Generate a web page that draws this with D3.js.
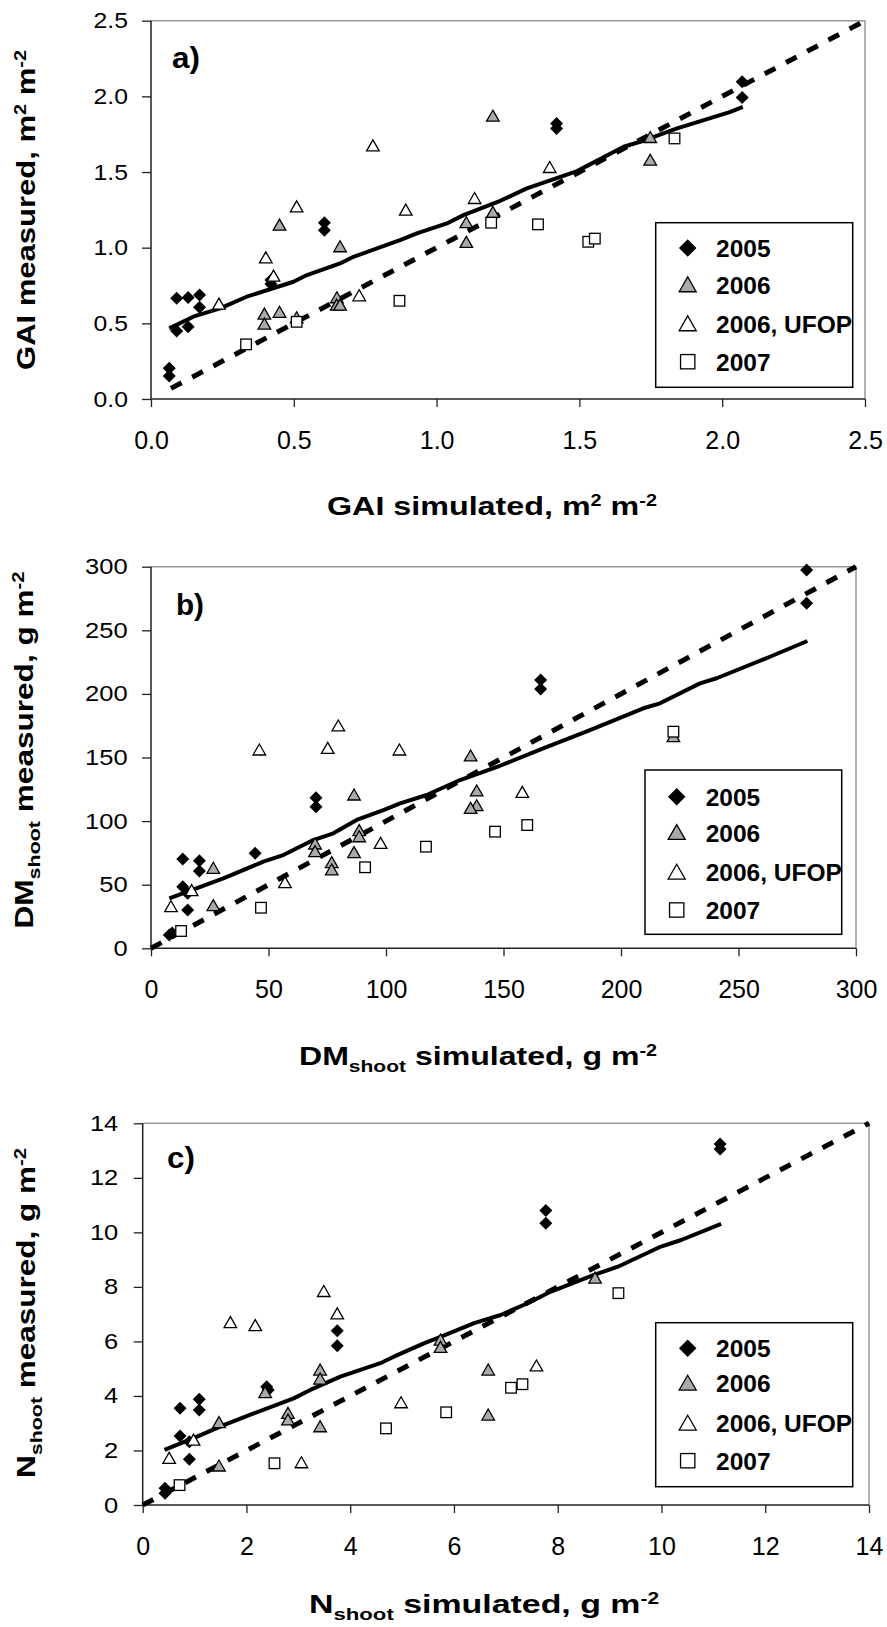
<!DOCTYPE html>
<html>
<head>
<meta charset="utf-8">
<script src="https://cdn.jsdelivr.net/npm/d3@7"></script>
<style>
  body { margin: 0; background: #fff; }
  text { font-family: Arial, "Liberation Sans", sans-serif; }
</style>
</head>
<body>
<svg id="chart" width="887" height="1627"></svg>
<script>
// ---- panel a) GAI ----
const gai2005 = [[0.09,0.665],[0.13,0.67],[0.17,0.687],[0.17,0.606],[0.09,0.449],[0.13,0.478],[0.064,0.203],[0.064,0.152],
  [0.42,0.786],[0.42,0.76],[0.607,1.165],[0.607,1.116],[1.42,1.821],[1.42,1.788],[2.07,2.096],[2.07,1.993]];
const gai2006 = [[0.45,1.149],[0.662,1.006],[0.397,0.561],[0.397,0.495],[0.45,0.573],[0.51,0.537],[0.651,0.669],[0.65,0.62],
  [0.662,0.62],[1.104,1.165],[1.104,1.035],[1.197,1.869],[1.197,1.233],[1.748,1.728],[1.748,1.578]];
const gaiUfop = [[0.238,0.627],[0.402,0.933],[0.429,0.812],[0.51,1.27],[0.777,1.673],[0.892,1.248],[0.729,0.682],
  [1.133,1.325],[1.396,1.53]];
const gai2007 = [[0.333,0.361],[0.51,0.51],[0.87,0.649],[1.191,1.165],[1.355,1.154],[1.531,1.039],[1.554,1.06],[1.833,1.722]];
const gaiFit = [[0.064,0.467],[0.148,0.544],[0.242,0.599],[0.335,0.676],[0.499,0.775],[0.546,0.819],[0.662,0.896],
  [0.709,0.94],[0.872,1.05],[0.931,1.094],[1.036,1.16],[1.094,1.215],[1.223,1.31],[1.316,1.392],[1.492,1.506],
  [1.655,1.667],[1.713,1.70],[1.842,1.788],[2.029,1.898],[2.072,1.931]];
const gaiOneToOne = [[0.07,0.07],[2.5,2.5]];
const gaiTicks = [0, 0.5, 1, 1.5, 2, 2.5];
const gaiLabels = ['0.0','0.5','1.0','1.5','2.0','2.5'];

// ---- panel b) DM shoot ----
const dm2005 = [[13.5,70.2],[20.6,68.9],[20.6,60.8],[13.5,48.4],[15.6,43.2],[15.6,30.1],[7.8,10.5],[9,12],[44.3,74.7],
  [70.2,118.4],[70.2,111.3],[165.8,210.9],[165.8,203.8],[279,297.4],[279,271.2]];
const dm2006 = [[26.5,62.9],[26.5,33.5],[69.8,82],[69.8,76],[76.9,67.3],[76.9,61.6],[86.4,120.5],[88.6,92.5],[88.6,87.7],
  [86.4,75.2],[136,151.2],[138.6,123.7],[138.6,112.1],[136,110],[222.3,166.4]];
const dmUfop = [[8.5,32.7],[17.3,45.3],[46.1,155.9],[57,51.6],[75.2,157.2],[79.7,174.8],[97.7,82.5],[105.7,155.9],[158,122.6]];
const dm2007 = [[12.8,13.6],[46.8,31.9],[91.1,63.7],[117,79.9],[146.4,91.7],[160.1,96.9],[222.3,170.3]];
const dmFit = [[7.8,39.3],[30.8,55],[47.8,68.1],[56.3,73.3],[69.1,85.1],[77.6,90.4],[87.5,100.9],[98.9,108.7],[106,114],
  [117.3,120.5],[131.5,132.3],[148.5,143.5],[166.9,157.2],[186.8,171.6],[209.5,188.7],[216.6,192.6],[233.6,208.3],
  [240.7,212.3],[263.4,229.2],[279.3,241.6]];
const dmOneToOne = [[0,0],[300,300]];
const dmTicks = [0, 50, 100, 150, 200, 250, 300];
const dmLabels = ['0','50','100','150','200','250','300'];

// ---- panel c) N shoot ----
const n2005 = [[0.72,3.55],[1.09,3.88],[1.09,3.48],[0.72,2.53],[0.9,2.32],[0.9,1.68],[0.43,0.61],[0.43,0.43],[2.39,4.34],
  [2.42,4.22],[3.75,6.39],[3.75,5.84],[7.77,10.8],[7.77,10.33],[11.13,13.24],[11.13,13.06]];
const n2006 = [[1.47,3.02],[1.47,1.43],[2.36,4.12],[2.8,3.36],[2.8,3.12],[3.42,4.95],[3.42,4.62],[3.42,2.87],[5.74,6.05],
  [5.74,5.78],[6.66,4.95],[6.66,3.30],[8.72,8.32]];
const nUfop = [[0.51,1.71],[0.98,2.38],[1.69,6.69],[2.17,6.58],[3.06,1.55],[3.49,7.83],[3.75,7.01],[4.98,3.75],[7.59,5.10]];
const n2007 = [[0.71,0.73],[2.54,1.53],[4.69,2.81],[5.85,3.40],[7.1,4.30],[7.32,4.43],[9.17,7.77]];
const nFit = [[0.42,2.02],[0.98,2.45],[1.56,2.93],[2.14,3.36],[2.91,3.91],[3.23,4.22],[3.81,4.71],[4.58,5.20],[4.84,5.44],
  [5.42,5.93],[5.74,6.17],[6.39,6.67],[6.9,6.97],[7.42,7.4],[7.87,7.83],[8.70,8.44],[9.16,8.74],[9.99,9.48],
  [10.38,9.72],[11.15,10.31]];
const nOneToOne = [[0,0],[14,14]];
const nTicks = [0, 2, 4, 6, 8, 10, 12, 14];
const nLabels = ['0','2','4','6','8','10','12','14'];

const legendNames = ['2005', '2006', '2006, UFOP', '2007'];

const svg = d3.select('#chart');
svg.append('rect').attr('width', 887).attr('height', 1627).attr('fill', '#fff');

// marker drawing
function marker(g, kind, big) {
  const k = big ? 1.35 : 1;
  if (kind === 'diamond') {
    g.append('path')
      .attr('d', `M0,${-6.5*k}L${6.5*k},0L0,${6.5*k}L${-6.5*k},0Z`)
      .attr('fill', '#000');
  } else if (kind === 'gray' || kind === 'open') {
    g.append('path')
      .attr('d', `M0,${-6*k}L${6.3*k},${5*k}L${-6.3*k},${5*k}Z`)
      .attr('fill', kind === 'gray' ? '#aaaaaa' : '#fff')
      .attr('stroke', '#000')
      .attr('stroke-width', 1.3);
  } else {
    const s = 5.3 * k;
    g.append('rect')
      .attr('x', -s).attr('y', -s).attr('width', 2*s).attr('height', 2*s)
      .attr('fill', '#fff')
      .attr('stroke', '#000')
      .attr('stroke-width', 1.3);
  }
}

// text with super/subscripts, squeezed to a given length
function richText(parent, parts, opts) {
  const t = parent.append('text')
    .attr('x', opts.x).attr('y', opts.y)
    .attr('text-anchor', 'middle')
    .style('font-weight', 'bold')
    .style('font-size', opts.size + 'px')
    .attr('textLength', opts.len)
    .attr('lengthAdjust', 'spacingAndGlyphs');
  if (opts.transform) t.attr('transform', opts.transform);
  let shift = 0;
  parts.forEach(p => {
    const ts = t.append('tspan').text(p.t);
    let target = 0, fs = opts.size;
    if (p.sup) { target = -9; fs = 16; }
    if (p.sub) { target = 7; fs = 17; }
    ts.style('font-size', fs + 'px').attr('dy', target - shift);
    shift = target;
  });
  return t;
}

function drawPanel(cfg) {
  const x = d3.scaleLinear().domain([0, cfg.max]).range([cfg.left, cfg.right]);
  const y = d3.scaleLinear().domain([0, cfg.max]).range([cfg.bottom, cfg.top]);
  const g = svg.append('g');

  // top and right border
  g.append('path')
    .attr('d', `M${cfg.left},${cfg.top}H${cfg.right}V${cfg.bottom}`)
    .attr('fill', 'none').attr('stroke', '#999').attr('stroke-width', 1.5);

  // axes
  const yAxis = g.append('g')
    .attr('transform', `translate(${cfg.left},0)`)
    .call(d3.axisLeft(y).tickValues(cfg.ticks).tickSize(9).tickPadding(cfg.yPad)
      .tickFormat((d, i) => cfg.labels[i]));
  const xAxis = g.append('g')
    .attr('transform', `translate(0,${cfg.bottom})`)
    .call(d3.axisBottom(x).tickValues(cfg.ticks).tickSize(8).tickPadding(24)
      .tickFormat((d, i) => cfg.labels[i]));
  [yAxis, xAxis].forEach(a => {
    a.select('.domain').remove();
    a.selectAll('.tick line').attr('stroke', '#222').attr('stroke-width', 1.3);
    a.selectAll('.tick text').attr('fill', '#000').style('font-family', 'Arial, "Liberation Sans", sans-serif');
  });
  yAxis.selectAll('.tick text')
    .style('font-size', '22px')
    .attr('textLength', d => {
      const s = cfg.labels[cfg.ticks.indexOf(d)];
      return s.replace('.', '').length * 14.2 + (s.includes('.') ? 6 : 0);
    })
    .attr('lengthAdjust', 'spacingAndGlyphs');
  xAxis.selectAll('.tick text').style('font-size', '25px');

  g.append('path')
    .attr('d', `M${cfg.left},${cfg.top}V${cfg.bottom}H${cfg.right}`)
    .attr('fill', 'none').attr('stroke', '#222').attr('stroke-width', 1.5);

  // lines
  const line = d3.line().x(d => x(d[0])).y(d => y(d[1]));
  g.append('path').datum(cfg.oneToOne)
    .attr('d', line).attr('fill', 'none').attr('stroke', '#000')
    .attr('stroke-width', 5).attr('stroke-dasharray', '12,12');
  g.append('path').datum(cfg.fit)
    .attr('d', line).attr('fill', 'none').attr('stroke', '#000')
    .attr('stroke-width', 4).attr('stroke-linejoin', 'round');

  // points
  const series = [[cfg.s2005, 'diamond'], [cfg.s2006, 'gray'], [cfg.ufop, 'open'], [cfg.s2007, 'square']];
  series.forEach(([data, kind]) => {
    data.forEach(d => {
      const m = g.append('g').attr('transform', `translate(${x(d[0])},${y(d[1])})`);
      marker(m, kind, false);
    });
  });

  // panel label
  g.append('text')
    .attr('x', cfg.tag[0]).attr('y', cfg.tag[1])
    .style('font-size', '29px').style('font-weight', 'bold')
    .attr('textLength', 28).attr('lengthAdjust', 'spacingAndGlyphs')
    .text(cfg.tagText);

  // legend
  const L = cfg.legend;
  g.append('rect')
    .attr('x', L.x0).attr('y', L.y0).attr('width', L.x1 - L.x0).attr('height', L.y1 - L.y0)
    .attr('fill', '#fff').attr('stroke', '#000').attr('stroke-width', 1.5);
  ['diamond', 'gray', 'open', 'square'].forEach((kind, i) => {
    const m = g.append('g').attr('transform', `translate(${L.sx},${L.ys[i]})`);
    marker(m, kind, true);
    g.append('text')
      .attr('x', L.tx).attr('y', L.ys[i] + 9)
      .style('font-size', '24.5px').style('font-weight', 'bold')
      .text(legendNames[i]);
  });

  // axis titles
  richText(svg, cfg.xTitle, { x: cfg.xt[0], y: cfg.xt[1], size: 26, len: cfg.xt[2] });
  richText(svg, cfg.yTitle, { x: 0, y: 0, size: 25, len: cfg.yt[2],
    transform: `translate(${cfg.yt[0]},${cfg.yt[1]}) rotate(-90)` });
}

drawPanel({
  max: 2.5, left: 151, right: 865, top: 20.7, bottom: 399, yPad: 14,
  ticks: gaiTicks, labels: gaiLabels,
  s2005: gai2005, s2006: gai2006, ufop: gaiUfop, s2007: gai2007,
  fit: gaiFit, oneToOne: gaiOneToOne,
  tag: [172, 68], tagText: 'a)',
  legend: { x0: 655.7, y0: 222.7, x1: 852.7, y1: 387.3, sx: 687.7, tx: 716, ys: [248, 285, 324, 361.7] },
  xTitle: [{t: 'GAI simulated, m'}, {t: '2', sup: true}, {t: ' m'}, {t: '-2', sup: true}],
  xt: [492, 515, 330],
  yTitle: [{t: 'GAI measured, m'}, {t: '2', sup: true}, {t: ' m'}, {t: '-2', sup: true}],
  yt: [35, 210, 320]
});

drawPanel({
  max: 300, left: 151, right: 856, top: 566.7, bottom: 948.3, yPad: 14.3,
  ticks: dmTicks, labels: dmLabels,
  s2005: dm2005, s2006: dm2006, ufop: dmUfop, s2007: dm2007,
  fit: dmFit, oneToOne: dmOneToOne,
  tag: [176, 615], tagText: 'b)',
  legend: { x0: 645, y0: 770, x1: 841.7, y1: 934.3, sx: 676.7, tx: 705.7, ys: [796.7, 832.7, 872.3, 910] },
  xTitle: [{t: 'DM'}, {t: 'shoot', sub: true}, {t: ' simulated, g m'}, {t: '-2', sup: true}],
  xt: [478, 1065, 358],
  yTitle: [{t: 'DM'}, {t: 'shoot', sub: true}, {t: ' measured, g m'}, {t: '-2', sup: true}],
  yt: [33, 750, 357]
});

drawPanel({
  max: 14, left: 142.7, right: 869, top: 1123.3, bottom: 1505, yPad: 15.4,
  ticks: nTicks, labels: nLabels,
  s2005: n2005, s2006: n2006, ufop: nUfop, s2007: n2007,
  fit: nFit, oneToOne: nOneToOne,
  tag: [167, 1168], tagText: 'c)',
  legend: { x0: 655.7, y0: 1322.7, x1: 852.7, y1: 1486.7, sx: 687.7, tx: 716, ys: [1348.3, 1383.3, 1423.3, 1460.7] },
  xTitle: [{t: 'N'}, {t: 'shoot', sub: true}, {t: ' simulated, g m'}, {t: '-2', sup: true}],
  xt: [484, 1613, 350],
  yTitle: [{t: 'N'}, {t: 'shoot', sub: true}, {t: ' measured, g m'}, {t: '-2', sup: true}],
  yt: [35, 1313, 330]
});
</script>
</body>
</html>
